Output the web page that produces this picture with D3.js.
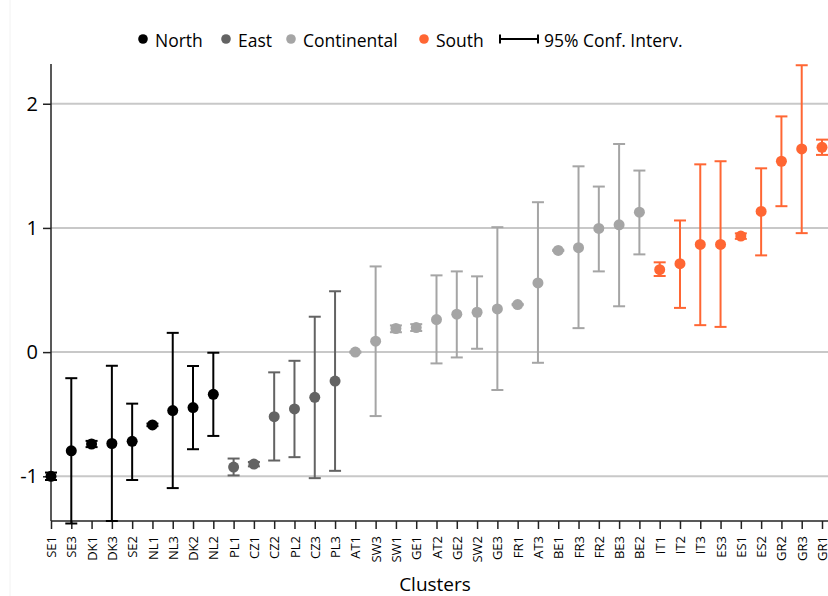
<!DOCTYPE html>
<html>
<head>
<meta charset="utf-8">
<script src="https://cdn.jsdelivr.net/npm/d3@7"></script>
<style>
  html, body { margin: 0; padding: 0; background: #fff; }
  svg { display: block; font-family: "Open Sans", sans-serif; }
</style>
</head>
<body>
<svg id="chart" width="828" height="596"></svg>
<script>
const categories = ["SE1","SE3","DK1","DK3","SE2","NL1","NL3","DK2","NL2",
  "PL1","CZ1","CZ2","PL2","CZ3","PL3",
  "AT1","SW3","SW1","GE1","AT2","GE2","SW2","GE3","FR1","AT3","BE1","FR3","FR2","BE3","BE2",
  "IT1","IT2","IT3","ES3","ES1","ES2","GR2","GR3","GR1"];
const regions = ["North","North","North","North","North","North","North","North","North",
  "East","East","East","East","East","East",
  "Continental","Continental","Continental","Continental","Continental","Continental","Continental","Continental","Continental","Continental","Continental","Continental","Continental","Continental","Continental",
  "South","South","South","South","South","South","South","South","South"];
const means = [-1.00,-0.795,-0.74,-0.736,-0.718,-0.586,-0.471,-0.447,-0.34,
  -0.926,-0.902,-0.52,-0.458,-0.364,-0.233,
  0.0,0.088,0.19,0.198,0.262,0.305,0.321,0.348,0.383,0.557,0.819,0.841,0.996,1.025,1.127,
  0.664,0.712,0.867,0.867,0.934,1.133,1.537,1.636,1.649];
const lower = [-1.03,-1.38,-0.765,-1.36,-1.03,-0.596,-1.095,-0.782,-0.675,
  -0.993,-0.92,-0.873,-0.846,-1.015,-0.956,
  -0.005,-0.515,0.16,0.17,-0.091,-0.043,0.027,-0.305,0.378,-0.086,0.814,0.193,0.65,0.369,0.787,
  0.613,0.356,0.217,0.203,0.912,0.779,1.175,0.958,1.588];
const upper = [-0.97,-0.21,-0.715,-0.11,-0.415,-0.576,0.155,-0.112,-0.005,
  -0.857,-0.885,-0.163,-0.07,0.285,0.49,
  0.005,0.69,0.215,0.225,0.618,0.65,0.61,1.006,0.388,1.207,0.824,1.496,1.333,1.676,1.462,
  0.723,1.06,1.512,1.537,0.956,1.48,1.898,2.31,1.711];
const yTicks = [-1, 0, 1, 2];
const legendNames = ["North","East","Continental","South"];
const legendColors = ["#000000","#636363","#a5a5a5","#ff6633"];

(function () {
const svg = d3.select("#chart");
const W = 828, H = 596;
const mLeft = 51, mRight = 822, mTop = 64, mBottom = 521;

const color = d3.scaleOrdinal().domain(legendNames).range(legendColors);
const x = d3.scalePoint().domain(categories).range([mLeft, mRight]).padding(0);
const y = d3.scaleLinear().domain([-1.36, 2.32]).range([mBottom, mTop]);

const data = categories.map((c, i) => ({c, r: regions[i], m: means[i], lo: lower[i], hi: upper[i]}));

// faint left frame line
svg.append("line").attr("x1", 10).attr("x2", 10).attr("y1", 0).attr("y2", H)
  .attr("stroke", "#f2f2f2").attr("stroke-width", 1);

// gridlines
svg.append("g").selectAll("line").data(yTicks).join("line")
  .attr("x1", mLeft).attr("x2", W)
  .attr("y1", d => y(d)).attr("y2", d => y(d))
  .attr("stroke", "#c8c8c8").attr("stroke-width", 2);

// y axis
const yAxis = svg.append("g").attr("transform", `translate(${mLeft},0)`)
  .call(d3.axisLeft(y).tickValues(yTicks).tickFormat(d => String(d)).tickSize(8).tickPadding(5));
yAxis.select(".domain").remove();
yAxis.append("line").attr("x1", 0).attr("x2", 0).attr("y1", mTop).attr("y2", mBottom)
  .attr("stroke", "#222").attr("stroke-width", 1.5);
yAxis.selectAll(".tick line").attr("stroke", "#222").attr("stroke-width", 1.5);
yAxis.selectAll(".tick text").attr("font-size", 20).attr("fill", "#000")
  .attr("font-family", "'Open Sans', sans-serif");

// x axis
const xAxis = svg.append("g").attr("transform", `translate(0,${mBottom})`)
  .call(d3.axisBottom(x).tickSize(8).tickSizeOuter(0));
xAxis.select(".domain").remove();
xAxis.append("line").attr("x1", mLeft).attr("x2", W).attr("y1", 0).attr("y2", 0)
  .attr("stroke", "#222").attr("stroke-width", 1.5);
xAxis.selectAll(".tick line").attr("stroke", "#222").attr("stroke-width", 1.5);
xAxis.selectAll(".tick text")
  .attr("font-size", 13).attr("fill", "#000")
  .attr("font-family", "'Open Sans', sans-serif")
  .attr("transform", "rotate(-90)")
  .attr("text-anchor", "end")
  .attr("x", -15).attr("y", 0).attr("dy", "0.35em");

svg.append("text").attr("x", 435).attr("y", 591).attr("text-anchor", "middle")
  .attr("font-size", 19).attr("fill", "#000").text("Clusters");

// error bars
const eb = svg.append("g").selectAll("g").data(data).join("g")
  .attr("stroke", d => color(d.r)).attr("stroke-width", 2);
eb.append("line").attr("x1", d => x(d.c)).attr("x2", d => x(d.c))
  .attr("y1", d => y(d.lo)).attr("y2", d => y(d.hi));
eb.append("line").attr("x1", d => x(d.c) - 6).attr("x2", d => x(d.c) + 6)
  .attr("y1", d => y(d.lo)).attr("y2", d => y(d.lo));
eb.append("line").attr("x1", d => x(d.c) - 6).attr("x2", d => x(d.c) + 6)
  .attr("y1", d => y(d.hi)).attr("y2", d => y(d.hi));

// points
svg.append("g").selectAll("circle").data(data).join("circle")
  .attr("cx", d => x(d.c)).attr("cy", d => y(d.m)).attr("r", 5.5)
  .attr("fill", d => color(d.r));

// legend
const lg = svg.append("g").attr("font-size", 17.5);
const legX = [143, 226, 291, 424];
legendNames.forEach((n, i) => {
  lg.append("circle").attr("cx", legX[i]).attr("cy", 39).attr("r", 4.8).attr("fill", legendColors[i]);
  lg.append("text").attr("x", legX[i] + 12).attr("y", 46.5).attr("fill", "#000").text(n);
});
lg.append("line").attr("x1", 500).attr("x2", 538).attr("y1", 39).attr("y2", 39).attr("stroke", "#000").attr("stroke-width", 2);
lg.append("line").attr("x1", 500).attr("x2", 500).attr("y1", 34.5).attr("y2", 43.5).attr("stroke", "#000").attr("stroke-width", 2);
lg.append("line").attr("x1", 538).attr("x2", 538).attr("y1", 34.5).attr("y2", 43.5).attr("stroke", "#000").attr("stroke-width", 2);
lg.append("text").attr("x", 544).attr("y", 46.5).attr("fill", "#000").text("95% Conf. Interv.");
})();
</script>
</body>
</html>
